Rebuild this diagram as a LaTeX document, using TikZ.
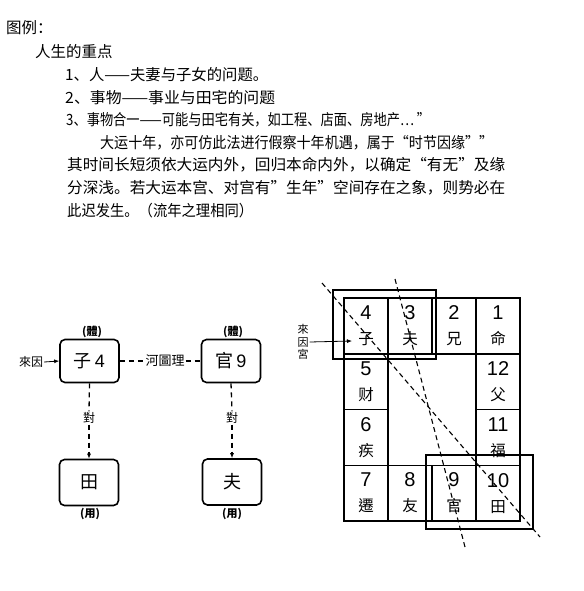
\documentclass[tikz,border=0pt]{standalone}
\usepackage{fontspec}
\usepackage{graphicx}
\setmainfont{Noto Sans CJK SC}
\newfontfamily\tcfont{Noto Sans CJK TC}
\newfontfamily\numfont{Liberation Sans}
\usetikzlibrary{arrows.meta}

% line of running text stretched to the width it has in the scan
\newcommand{\fitline}[2]{\resizebox{#1pt}{\height}{#2}}

\begin{document}
\begin{tikzpicture}[x=1pt, y=-1pt, >={Latex[length=5pt,width=4pt]}]
    \useasboundingbox (0,0) rectangle (583,591);

    % styles
    \tikzstyle{textline}=[anchor=west, inner sep=0pt, font=\fontsize{15.5}{15.5}\selectfont]
    \tikzstyle{block}=[
      draw,
      line width=1.6pt,
      rectangle,
      rounded corners=5pt,
      minimum width=59pt,
      minimum height=43pt,
      font=\tcfont\fontsize{18}{18}\selectfont
    ]
    \tikzstyle{tag}=[inner sep=1pt, font=\tcfont\fontsize{12}{12}\selectfont]
    \tikzstyle{cell}=[
      draw,
      line width=1.4pt,
      minimum width=44pt,
      minimum height=55.75pt,
      align=center,
      font=\tcfont\fontsize{15.5}{25}\selectfont
    ]
    \tikzstyle{frame}=[draw, line width=1.8pt]
    \tikzstyle{dashline}=[line width=1.3pt, dash pattern=on 5pt off 4pt]
    \tikzstyle{chord}=[line width=1.1pt, dash pattern=on 5pt off 3.5pt]

    % Text block
    \node[textline] (T1) at (6,28) {图例：};
    \node[textline] (T2) at (35,52) {人生的重点};
    \node[textline] (T3) at (65,75) {\fitline{203}{1、人——夫妻与子女的问题。}};
    \node[textline] (T4) at (65,98) {\fitline{210}{2、事物——事业与田宅的问题}};
    \node[textline] (T5) at (66,120) {\fitline{364}{3、事物合一——可能与田宅有关，如工程、店面、房地产… ”}};
    \node[textline] (T6) at (100,143) {\fitline{393}{大运十年，亦可仿此法进行假察十年机遇，属于“时节因缘””}};
    \node[textline] (T7) at (67,165) {\fitline{438}{其时间长短须依大运内外，回归本命内外，以确定“有无”及缘}};
    \node[textline] (T8) at (67,188) {\fitline{438}{分深浅。若大运本宫、对宫有”生年”空间存在之象，则势必在}};
    \node[textline] (T9) at (67,211) {\fitline{186}{此迟发生。（流年之理相同）}};

    % Left diagram: boxes
    \node[block] (A) at (89.5,361) {子\,{\numfont 4}};
    \node[block] (B) at (231,361) {官\,{\numfont 9}};
    \node[block, minimum height=46pt] (C) at (89,482.5) {田};
    \node[block, minimum height=46pt] (D) at (232,482) {夫};

    % Left diagram: labels
    \node[tag, font=\tcfont\bfseries\fontsize{11}{11}\selectfont] (tiA) at (92,332) {(體)};
    \node[tag, font=\tcfont\bfseries\fontsize{11}{11}\selectfont] (tiB) at (233,332) {(體)};
    \node[tag, font=\tcfont\bfseries\fontsize{11}{11}\selectfont] (yoC) at (90,514) {(用)};
    \node[tag, font=\tcfont\bfseries\fontsize{11}{11}\selectfont] (yoD) at (232,514) {(用)};
    \node[tag] (laiyin) at (31,362) {來因};
    \node[tag, font=\tcfont\fontsize{13}{13}\selectfont] (hetu) at (165,361) {河圖理};
    \node[tag] (duiA) at (89,418) {對};
    \node[tag] (duiB) at (232,418) {對};

    % Left diagram: connectors
    \draw[->, thick] (laiyin.east) -- (A.west);
    \draw[dashline] (A.east) -- (hetu.west);
    \draw[dashline] (hetu.east) -- (B.west);
    \draw[dashline] (A.south) -- (duiA.north);
    \draw[->, dashline] (duiA.south) -- (C.north);
    \draw[dashline] (B.south) -- (duiB.north);
    \draw[->, dashline] (duiB.south) -- (D.north);

    % Right diagram: top row
    \node[cell] (c4) at (366,326) {{\numfont\fontsize{20}{20}\selectfont 4}\\子};
    \node[cell] (c3) at (410,326) {{\numfont\fontsize{20}{20}\selectfont 3}\\夫};
    \node[cell] (c2) at (454,326) {{\numfont\fontsize{20}{20}\selectfont 2}\\兄};
    \node[cell] (c1) at (498,326) {{\numfont\fontsize{20}{20}\selectfont 1}\\命};

    % Right diagram: sides
    \node[cell] (c5) at (366,381.6) {{\numfont\fontsize{20}{20}\selectfont 5}\\财};
    \node[cell] (c6) at (366,437.4) {{\numfont\fontsize{20}{20}\selectfont 6}\\疾};
    \node[cell] (c12) at (498,381.6) {{\numfont\fontsize{20}{20}\selectfont 12}\\父};
    \node[cell] (c11) at (498,437.4) {{\numfont\fontsize{20}{20}\selectfont 11}\\福};

    % Right diagram: bottom row
    \node[cell] (c7) at (366,493.1) {{\numfont\fontsize{20}{20}\selectfont 7}\\遷};
    \node[cell] (c8) at (410,493.1) {{\numfont\fontsize{20}{20}\selectfont 8}\\友};
    \node[cell] (c9) at (454,493.1) {{\numfont\fontsize{20}{20}\selectfont 9}\\官};
    \node[cell] (c10) at (498,493.1) {{\numfont\fontsize{20}{20}\selectfont 10}\\田};

    % Frames round the pairs
    \draw[frame] (333,290) rectangle (436,359);
    \draw[frame] (426,455) rectangle (533,529);

    % Dashed chords
    \draw[chord] (322,283) -- (540,537);
    \draw[chord] (395,279) -- (465,547);

    % Incoming arrow
    \node[tag, align=center, font=\tcfont\fontsize{11}{12.5}\selectfont] (lyg) at (303,342) {來\\因\\宮};
    \coordinate (zientry) at (352,341);
    \draw[->, thick] (lyg.east) -- (zientry);
  \end{tikzpicture}
\end{document}
